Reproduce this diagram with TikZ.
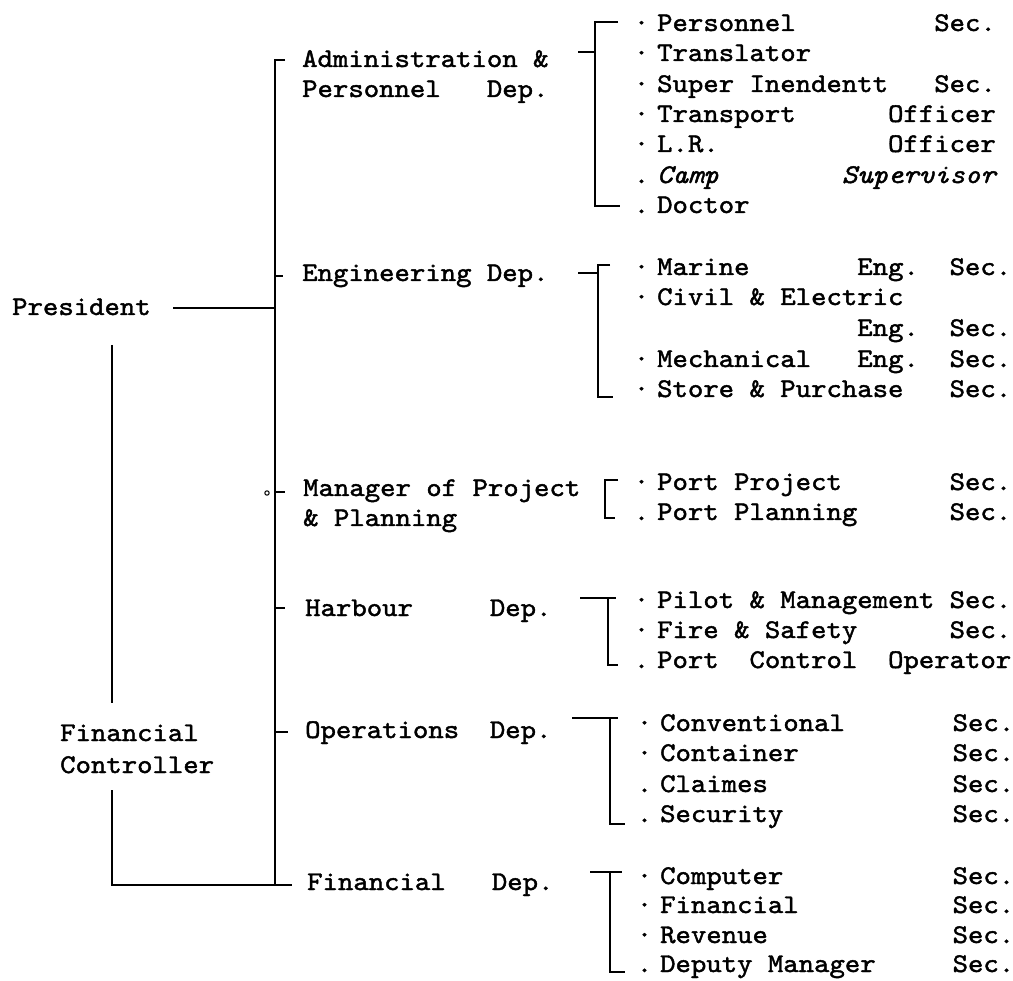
\documentclass[tikz,border=0pt]{standalone}
\usepackage{fontspec}
% typewriter face used for every label
\newfontfamily\tw[Extension=.otf,UprightFont=lmmono10-regular,
  ItalicFont=lmmono10-italic,FakeStretch=1.086,FakeBold=1.6]{lmmono10-regular}
\newlength\cw
\setlength\cw{15.39pt}
% blank columns of the typewriter grid
\newcommand\gp[1]{\hspace*{#1\cw}}
% bullet set just left of an item
\newcommand\bl[1]{\llap{#1\kern8pt}}
\begin{document}
\begin{tikzpicture}[x=1pt,y=-1pt,
  lbl/.style={font=\tw\fontsize{27pt}{30pt}\selectfont,inner sep=0pt,anchor=base west},
  conn/.style={line width=2pt,line cap=butt},
  tick/.style={line width=1.7pt}]
\fill[white] (0,0) rectangle (1013,981);
\useasboundingbox (0,0) rectangle (1013,981);

% ---- heads ----
\node[lbl] (pres) at (12,315) {President};
\node[lbl] (fc1) at (60,741) {Financial};
\node[lbl] (fc2) at (60,773) {Controller};

% ---- departments ----
\node[lbl] (adm1) at (302,67) {Administration \&};
\node[lbl] (adm2) at (302,97) {Personnel\gp{3}Dep.};
\node[lbl] (eng) at (302,281) {Engineering Dep.};
\node[lbl] (man1) at (303,496) {Manager of Project};
\node[lbl] (man2) at (303,526) {\& Planning};
\node[lbl] (har) at (305,616) {Harbour\gp{5}Dep.};
\node[lbl] (ops) at (305,738) {Operations\gp{2}Dep.};
\node[lbl] (fin) at (307,890) {Financial\gp{3}Dep.};

% ---- administration sections ----
\node[lbl] (a1) at (657,31) {\bl{·}Personnel\gp{9}Sec.};
\node[lbl] (a2) at (657,61) {\bl{·}Translator};
\node[lbl] (a3) at (657,92) {\bl{·}Super Inendentt\gp{3}Sec.};
\node[lbl] (a4) at (657,122) {\bl{·}Transport\gp{6}Officer};
\node[lbl] (a5) at (657,152) {\bl{·}L.R.\gp{11}Officer};
\node[lbl] (a6) at (657,183) {\bl{.}\itshape Camp\gp{8}Supervisor};
\node[lbl] (a7) at (657,213) {\bl{.}Doctor};

% ---- engineering sections ----
\node[lbl] (e1) at (657,275) {\bl{·}Marine\gp{7}Eng.\gp{2}Sec.};
\node[lbl] (e2) at (657,305) {\bl{·}Civil \& Electric};
\node[lbl] (e3) at (657,336) {\gp{13}Eng.\gp{2}Sec.};
\node[lbl] (e4) at (657,367) {\bl{·}Mechanical\gp{3}Eng.\gp{2}Sec.};
\node[lbl] (e5) at (657,397) {\bl{·}Store \& Purchase\gp{3}Sec.};

% ---- project sections ----
\node[lbl] (p1) at (657,490) {\bl{·}Port Project\gp{7}Sec.};
\node[lbl] (p2) at (657,520) {\bl{.}Port Planning\gp{6}Sec.};

% ---- harbour sections ----
\node[lbl] (h1) at (657,608) {\bl{·}Pilot \& Management Sec.};
\node[lbl] (h2) at (657,638) {\bl{·}Fire \& Safety\gp{6}Sec.};
\node[lbl] (h3) at (657,668) {\bl{.}Port\gp{2}Control\gp{2}Operator};

% ---- operations sections ----
\node[lbl] (o1) at (660,731) {\bl{·}Conventional\gp{7}Sec.};
\node[lbl] (o2) at (660,761) {\bl{·}Container\gp{10}Sec.};
\node[lbl] (o3) at (660,792) {\bl{.}Claimes\gp{12}Sec.};
\node[lbl] (o4) at (660,822) {\bl{.}Security\gp{11}Sec.};

% ---- financial sections ----
\node[lbl] (f1) at (660,884) {\bl{·}Computer\gp{11}Sec.};
\node[lbl] (f2) at (660,913) {\bl{·}Financial\gp{10}Sec.};
\node[lbl] (f3) at (660,943) {\bl{·}Revenue\gp{12}Sec.};
\node[lbl] (f4) at (660,972) {\bl{.}Deputy Manager\gp{5}Sec.};

% ---- main spine and its junctions ----
\coordinate (aT) at (285,60);
\coordinate (sTop) at (275,60);
\coordinate (sBot) at (275,885);
\coordinate (pE) at (173,308);
\coordinate (pJ) at (275,308);
\coordinate (eJ) at (275,276);  \coordinate (eT) at (283,276);
\coordinate (mJ) at (275,492);  \coordinate (mT) at (285,492);
\coordinate (mDot) at (267,493);
\coordinate (hJ) at (275,608);  \coordinate (hT) at (285,608);
\coordinate (oJ) at (275,732);  \coordinate (oT) at (288,732);
\coordinate (fcTop) at (112,345);
\coordinate (fcA) at (112,703);
\coordinate (fcB) at (112,790);
\coordinate (fcBot) at (112,885);
\coordinate (fT) at (292,885);

\draw[conn] (aT) -- (sTop) -- (sBot);
\draw[tick] (pE) -- (pJ);
\draw[tick] (eJ) -- (eT);
\draw[tick] (mJ) -- (mT);
\draw[line width=1pt] (mDot) circle (2.2);
\draw[tick] (hJ) -- (hT);
\draw[tick] (oJ) -- (oT);
\draw[conn] (fcTop) -- (fcA);
\draw[conn] (fcB) -- (fcBot) -- (fT);

% ---- section brackets ----
\coordinate (abL) at (578,52);  \coordinate (abJ) at (595,52);
\coordinate (abT) at (618,22);  \coordinate (abTc) at (595,22);
\coordinate (abBc) at (595,206); \coordinate (abB) at (620,206);
\draw[tick] (abL) -- (abJ);
\draw[conn] (abT) -- (abTc) -- (abBc) -- (abB);

\coordinate (ebL) at (578,273); \coordinate (ebJ) at (598,273);
\coordinate (ebT) at (610,265); \coordinate (ebTc) at (598,265);
\coordinate (ebBc) at (598,397); \coordinate (ebB) at (613,397);
\draw[tick] (ebL) -- (ebJ);
\draw[conn] (ebT) -- (ebTc) -- (ebBc) -- (ebB);

\coordinate (pbT) at (618,480); \coordinate (pbTc) at (605,480);
\coordinate (pbBc) at (605,518); \coordinate (pbB) at (615,518);
\draw[tick] (pbT) -- (pbTc) -- (pbBc) -- (pbB);

\coordinate (hbL) at (580,598); \coordinate (hbTc) at (608,598);
\coordinate (hbT) at (616,598); \coordinate (hbBc) at (608,665);
\coordinate (hbB) at (618,665);
\draw[tick] (hbL) -- (hbT);
\draw[conn] (hbTc) -- (hbBc) -- (hbB);

\coordinate (obL) at (572,718); \coordinate (obTc) at (610,718);
\coordinate (obT) at (618,718); \coordinate (obBc) at (610,824);
\coordinate (obB) at (625,824);
\draw[tick] (obL) -- (obT);
\draw[conn] (obTc) -- (obBc) -- (obB);

\coordinate (fbL) at (590,872); \coordinate (fbTc) at (610,872);
\coordinate (fbT) at (622,872); \coordinate (fbBc) at (610,972);
\coordinate (fbB) at (625,972);
\draw[tick] (fbL) -- (fbT);
\draw[conn] (fbTc) -- (fbBc) -- (fbB);
\end{tikzpicture}
\end{document}
